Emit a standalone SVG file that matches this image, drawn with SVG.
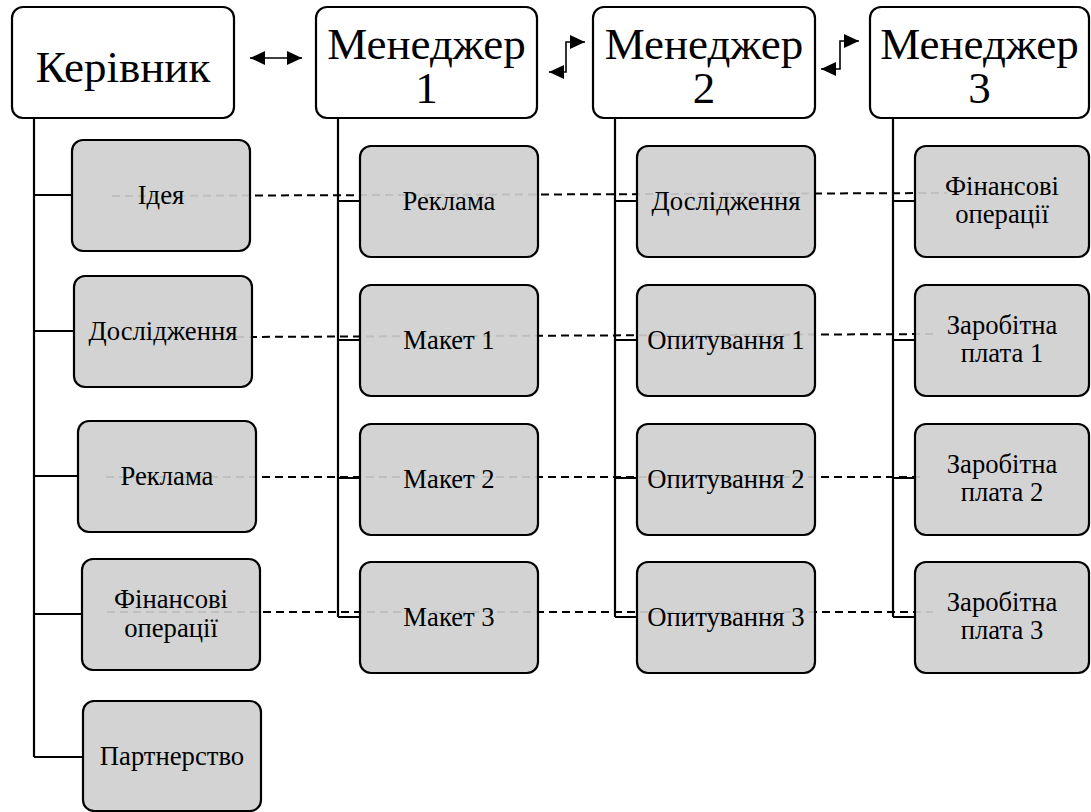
<svg xmlns="http://www.w3.org/2000/svg" width="1091" height="812" viewBox="0 0 1091 812">
<defs>
<marker id="ah" markerUnits="userSpaceOnUse" markerWidth="16" markerHeight="15" refX="15" refY="7" orient="auto-start-reverse">
<path d="M0,0 L15,7 L0,14 z" fill="#000"/>
</marker>
<style>
.top{fill:#fff;stroke:#000;stroke-width:2.2}
.box{fill:#cfcfcf;fill-opacity:0.92;stroke:#000;stroke-width:2.2}
.tt{font-size:45px;fill:#000;text-anchor:middle}
.ct{font-size:26.67px;fill:#000;text-anchor:middle}
.ln{fill:none;stroke:#000;stroke-width:2.2}
.dash{fill:none;stroke:#000;stroke-width:2;stroke-dasharray:8 5}
.arr{fill:none;stroke:#000;stroke-width:1.6;marker-start:url(#ah);marker-end:url(#ah)}
</style>
</defs>
<rect width="1091" height="812" fill="#fff"/>
<g id="connectors">
<path class="ln" d="M34,118 V757 M34,195 H72 M34,331 H74 M34,476 H78 M34,614 H82 M34,757 H83"/>
<path class="ln" d="M338,118 V617 M338,201 H360 M338,340 H360 M338,478 H360 M338,617 H360"/>
<path class="ln" d="M615,118 V617 M615,201 H637 M615,340 H637 M615,478 H637 M615,617 H637"/>
<path class="ln" d="M893,118 V617 M893,201 H915 M893,340 H915 M893,478 H915 M893,617 H915"/>
<path class="arr" d="M250,58 H302"/>
<path class="arr" d="M549,72 H566 V42 H585"/>
<path class="arr" d="M821,69 H840 V41 H859"/>
<path class="dash" d="M112,196 L947,193"/>
<path class="dash" d="M236,337 L937,334"/>
<path class="dash" d="M106,477 L925,477"/>
<path class="dash" d="M107,612 L933,612"/>
</g>
<g id="nodes" font-family="Liberation Serif, Tinos, Times New Roman, DejaVu Serif, serif">
<g id="kerivnyk"><rect class="top" x="12" y="7" width="222" height="111" rx="11"/><text class="tt" x="123" y="82">Керівник</text></g>
<g id="manager1"><rect class="top" x="316" y="7" width="221" height="111" rx="11"/><text class="tt" x="426.5" y="59">Менеджер</text><text class="tt" x="426.5" y="103">1</text></g>
<g id="manager2"><rect class="top" x="593" y="7" width="222" height="111" rx="11"/><text class="tt" x="704" y="59">Менеджер</text><text class="tt" x="704" y="103">2</text></g>
<g id="manager3"><rect class="top" x="870" y="7" width="219" height="111" rx="11"/><text class="tt" x="979.5" y="59">Менеджер</text><text class="tt" x="979.5" y="103">3</text></g>

<g id="k-ideia"><rect class="box" x="72" y="140" width="178" height="111" rx="11"/><text class="ct" x="161" y="204">Ідея</text></g>
<g id="k-doslidzhennia"><rect class="box" x="74" y="276" width="178" height="111" rx="11"/><text class="ct" x="163" y="340">Дослідження</text></g>
<g id="k-reklama"><rect class="box" x="78" y="421" width="178" height="111" rx="11"/><text class="ct" x="167" y="485">Реклама</text></g>
<g id="k-finansovi"><rect class="box" x="82" y="559" width="178" height="111" rx="11"/><text class="ct" x="171" y="608">Фінансові</text><text class="ct" x="171" y="637">операції</text></g>
<g id="k-partnerstvo"><rect class="box" x="83" y="701" width="178" height="110" rx="11"/><text class="ct" x="172" y="765">Партнерство</text></g>

<g id="m1-reklama"><rect class="box" x="360" y="146" width="178" height="111" rx="11"/><text class="ct" x="449" y="210">Реклама</text></g>
<g id="m1-maket1"><rect class="box" x="360" y="285" width="178" height="111" rx="11"/><text class="ct" x="449" y="349">Макет 1</text></g>
<g id="m1-maket2"><rect class="box" x="360" y="424" width="178" height="111" rx="11"/><text class="ct" x="449" y="488">Макет 2</text></g>
<g id="m1-maket3"><rect class="box" x="360" y="562" width="178" height="111" rx="11"/><text class="ct" x="449" y="626">Макет 3</text></g>

<g id="m2-doslidzhennia"><rect class="box" x="637" y="146" width="178" height="111" rx="11"/><text class="ct" x="726" y="210">Дослідження</text></g>
<g id="m2-opytuvannia1"><rect class="box" x="637" y="285" width="178" height="111" rx="11"/><text class="ct" x="726" y="349">Опитування 1</text></g>
<g id="m2-opytuvannia2"><rect class="box" x="637" y="424" width="178" height="111" rx="11"/><text class="ct" x="726" y="488">Опитування 2</text></g>
<g id="m2-opytuvannia3"><rect class="box" x="637" y="562" width="178" height="111" rx="11"/><text class="ct" x="726" y="626">Опитування 3</text></g>

<g id="m3-finansovi"><rect class="box" x="915" y="146" width="174" height="111" rx="11"/><text class="ct" x="1002" y="195">Фінансові</text><text class="ct" x="1002" y="223">операції</text></g>
<g id="m3-zarplata1"><rect class="box" x="915" y="285" width="174" height="111" rx="11"/><text class="ct" x="1002" y="334">Заробітна</text><text class="ct" x="1002" y="362">плата 1</text></g>
<g id="m3-zarplata2"><rect class="box" x="915" y="424" width="174" height="111" rx="11"/><text class="ct" x="1002" y="473">Заробітна</text><text class="ct" x="1002" y="501">плата 2</text></g>
<g id="m3-zarplata3"><rect class="box" x="915" y="562" width="174" height="111" rx="11"/><text class="ct" x="1002" y="611">Заробітна</text><text class="ct" x="1002" y="639">плата 3</text></g>
</g>
</svg>
